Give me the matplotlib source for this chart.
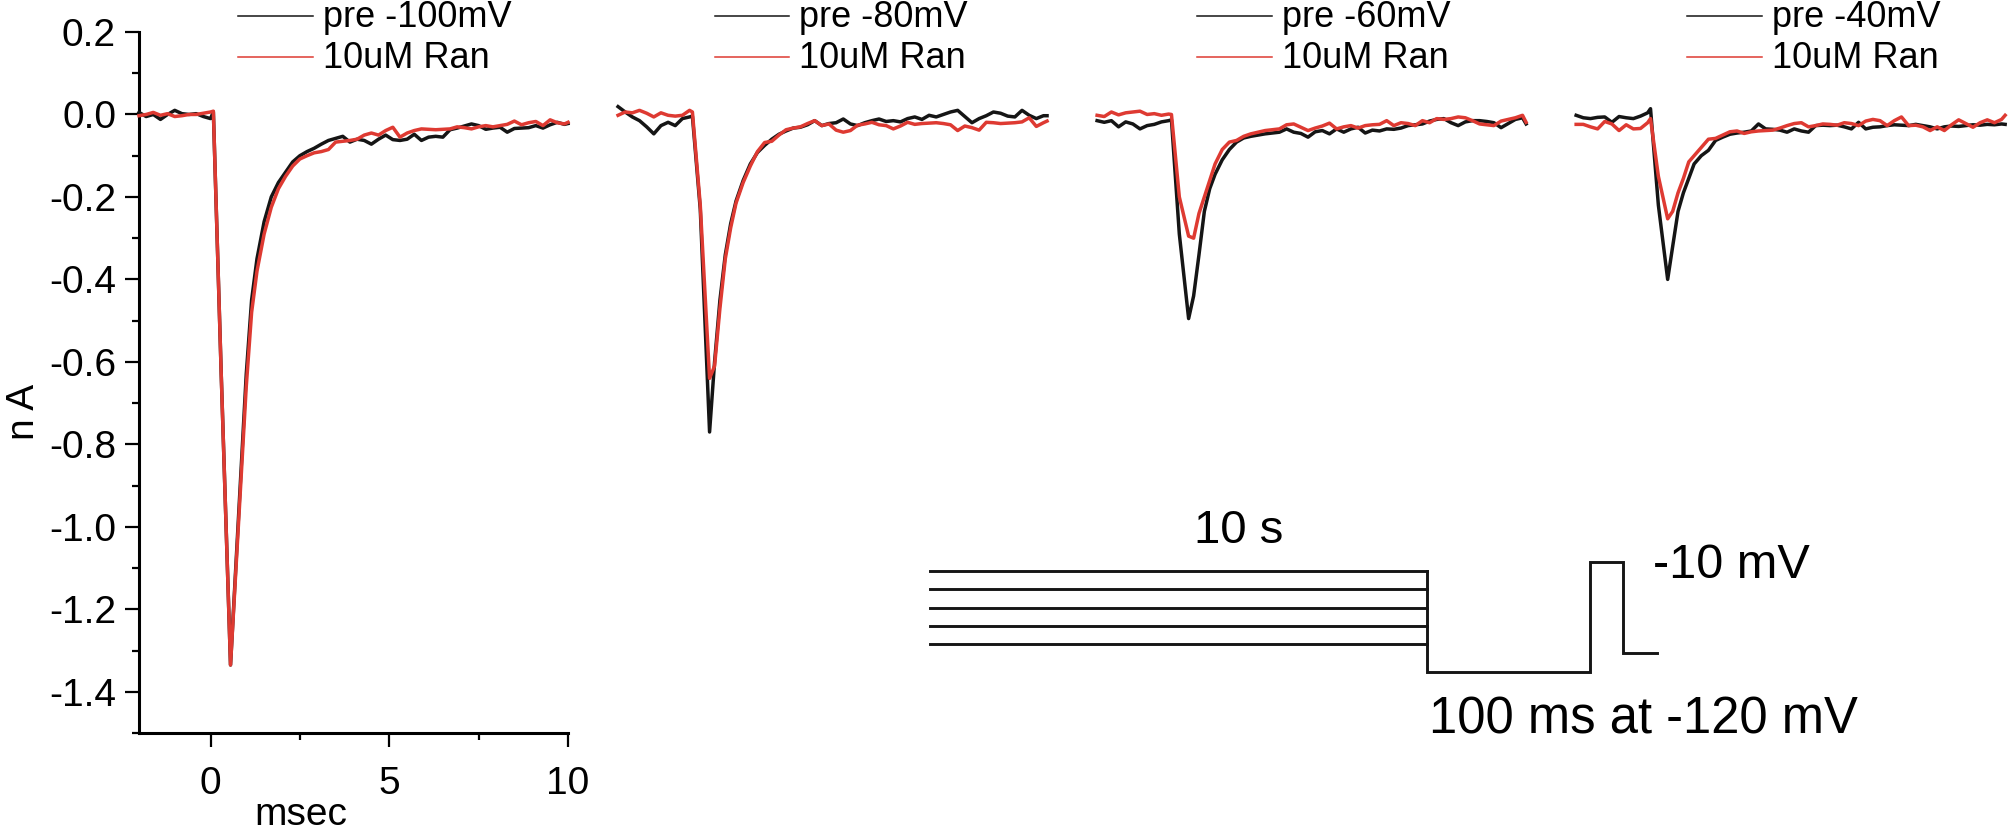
import matplotlib
matplotlib.use('Agg')
import matplotlib.pyplot as plt
import matplotlib.transforms as mtransforms
from matplotlib.ticker import MultipleLocator, FuncFormatter

plt.rcParams['font.family'] = ['Liberation Sans', 'DejaVu Sans']
plt.rcParams['axes.unicode_minus'] = False

# sample times (msec), shared by all sweeps
t_ms = [-2.0, -1.8, -1.6, -1.4, -1.2, -1.0, -0.8, -0.6, -0.4, -0.2, 0.0, 0.08,
        0.3, 0.56, 0.7, 0.85, 1.0, 1.15, 1.3, 1.5, 1.7, 1.9,
        2.1, 2.3, 2.5, 2.7, 2.9, 3.1, 3.3, 3.5, 3.7, 3.9,
        4.1, 4.3, 4.5, 4.7, 4.9, 5.1, 5.3, 5.5, 5.7, 5.9,
        6.1, 6.3, 6.5, 6.7, 6.9, 7.1, 7.3, 7.5, 7.7, 7.9,
        8.1, 8.3, 8.5, 8.7, 8.9, 9.1, 9.3, 9.5, 9.7, 9.9,
        10.0]

# currents (nA): control after prepulse, and with 10uM ranolazine
pre_100 = [0.005, -0.005, 0.0, -0.012, 0.0, 0.01, 0.002, 0.0, 0.002, -0.005, -0.01, 0.006,
           -0.63, -1.335, -1.11, -0.87, -0.63, -0.45, -0.35, -0.26, -0.20, -0.165,
           -0.14, -0.115, -0.10, -0.09, -0.082, -0.072, -0.063, -0.058, -0.053, -0.067,
           -0.06, -0.063, -0.072, -0.06, -0.05, -0.061, -0.063, -0.06, -0.048, -0.063,
           -0.055, -0.053, -0.055, -0.037, -0.033, -0.028, -0.023, -0.027, -0.036, -0.033,
           -0.031, -0.043, -0.034, -0.033, -0.032, -0.027, -0.033, -0.025, -0.019, -0.024,
           -0.022]
ran_100 = [-0.003, 0.0, 0.005, -0.002, 0.002, -0.005, -0.003, 0.0, 0.0, 0.003, 0.006, 0.008,
           -0.63, -1.335, -1.12, -0.89, -0.66, -0.48, -0.38, -0.29, -0.225, -0.18,
           -0.15, -0.125, -0.108, -0.10, -0.093, -0.09, -0.085, -0.067, -0.065, -0.063,
           -0.06, -0.05, -0.045, -0.05, -0.039, -0.031, -0.055, -0.045, -0.039, -0.035,
           -0.036, -0.037, -0.036, -0.035, -0.03, -0.032, -0.035, -0.03, -0.027, -0.03,
           -0.027, -0.024, -0.016, -0.025, -0.02, -0.017, -0.027, -0.013, -0.02, -0.023,
           -0.019]
pre_80 = [0.019, 0.006, -0.006, -0.015, -0.03, -0.047, -0.027, -0.019, -0.027, -0.01, -0.006, -0.004,
          -0.23, -0.77, -0.60, -0.45, -0.34, -0.265, -0.21, -0.16, -0.12, -0.092,
          -0.075, -0.06, -0.048, -0.04, -0.033, -0.031, -0.025, -0.015, -0.027, -0.022,
          -0.02, -0.011, -0.023, -0.027, -0.02, -0.015, -0.011, -0.017, -0.015, -0.018,
          -0.01, -0.006, -0.012, -0.002, -0.006, 0.0, 0.006, 0.01, -0.005, -0.02,
          -0.01, -0.003, 0.006, 0.003, -0.004, -0.006, 0.01, -0.002, -0.01, -0.003,
          -0.003]
ran_80 = [-0.002, 0.006, 0.004, 0.01, 0.003, -0.006, 0.004, -0.002, -0.004, -0.002, 0.01, 0.006,
          -0.22, -0.64, -0.61, -0.47, -0.35, -0.275, -0.215, -0.165, -0.125, -0.09,
          -0.068, -0.065, -0.05, -0.037, -0.033, -0.03, -0.022, -0.015, -0.027, -0.023,
          -0.038, -0.043, -0.039, -0.026, -0.023, -0.019, -0.025, -0.027, -0.035, -0.028,
          -0.019, -0.024, -0.022, -0.021, -0.02, -0.022, -0.025, -0.039, -0.028, -0.032,
          -0.038, -0.019, -0.02, -0.022, -0.021, -0.02, -0.018, -0.008, -0.029, -0.02,
          -0.016]
pre_60 = [-0.015, -0.019, -0.015, -0.03, -0.018, -0.023, -0.035, -0.027, -0.024, -0.018, -0.015, -0.013,
          -0.29, -0.495, -0.44, -0.34, -0.235, -0.18, -0.145, -0.11, -0.085, -0.067,
          -0.057, -0.053, -0.05, -0.047, -0.045, -0.043, -0.035, -0.043, -0.046, -0.055,
          -0.042, -0.039, -0.047, -0.035, -0.043, -0.035, -0.031, -0.045, -0.038, -0.04,
          -0.035, -0.036, -0.033, -0.027, -0.025, -0.023, -0.016, -0.012, -0.01, -0.02,
          -0.027, -0.018, -0.015, -0.015, -0.017, -0.02, -0.032, -0.022, -0.012, -0.008,
          -0.023]
ran_60 = [-0.002, -0.005, 0.006, -0.001, 0.004, 0.006, 0.008, 0.0, 0.002, -0.002, 0.001, 0.0,
          -0.20, -0.295, -0.30, -0.24, -0.20, -0.16, -0.12, -0.085, -0.067, -0.063,
          -0.053, -0.047, -0.043, -0.039, -0.037, -0.035, -0.025, -0.023, -0.031, -0.039,
          -0.033, -0.028, -0.021, -0.035, -0.03, -0.027, -0.033, -0.027, -0.025, -0.024,
          -0.015, -0.027, -0.02, -0.022, -0.027, -0.015, -0.02, -0.01, -0.012, -0.01,
          -0.006, -0.008, -0.015, -0.023, -0.025, -0.027, -0.016, -0.012, -0.008, -0.002,
          -0.019]
pre_40 = [-0.002, -0.008, -0.01, -0.007, -0.006, -0.019, -0.005, -0.008, -0.01, -0.004, 0.004, 0.014,
          -0.22, -0.40, -0.32, -0.235, -0.19, -0.155, -0.12, -0.10, -0.087, -0.063,
          -0.055, -0.048, -0.045, -0.043, -0.04, -0.023, -0.035, -0.036, -0.038, -0.043,
          -0.035, -0.04, -0.043, -0.027, -0.026, -0.027, -0.026, -0.03, -0.035, -0.019,
          -0.035, -0.031, -0.03, -0.027, -0.025, -0.026, -0.027, -0.024, -0.027, -0.03,
          -0.035, -0.03, -0.028, -0.029, -0.027, -0.025, -0.026, -0.024, -0.025, -0.023,
          -0.024]
ran_40 = [-0.024, -0.024, -0.03, -0.035, -0.017, -0.023, -0.039, -0.025, -0.035, -0.034, -0.02, -0.01,
          -0.15, -0.253, -0.235, -0.19, -0.155, -0.115, -0.10, -0.08, -0.06, -0.058,
          -0.05, -0.042, -0.04, -0.046, -0.042, -0.04, -0.039, -0.038, -0.033, -0.027,
          -0.022, -0.02, -0.03, -0.027, -0.023, -0.024, -0.026, -0.02, -0.022, -0.027,
          -0.016, -0.012, -0.015, -0.027, -0.015, -0.006, -0.027, -0.026, -0.03, -0.039,
          -0.03, -0.039, -0.025, -0.013, -0.022, -0.031, -0.02, -0.013, -0.02, -0.012,
          -0.002]

ctrl_sweeps = [pre_100, pre_80, pre_60, pre_40]
drug_sweeps = [ran_100, ran_80, ran_60, ran_40]
ctrl_labels = ['pre -100mV', 'pre -80mV', 'pre -60mV', 'pre -40mV']
drug_label = '10uM Ran'
sweep_shift = 13.4              # msec between sweeps laid side by side
legend_t0 = [0.78, 14.1, 27.6, 41.3]

# voltage protocol cartoon (schematic units: time, level rows)
cond_rows = [0, 1, 2, 3, 4]
cond_end = 10.0
hyper_row, hyper_end = 5.5, 13.28
test_row, test_end = -0.5, 13.94
tail_row, tail_end = 4.5, 14.62

black = '#151515'
red = '#de3a32'

W, H = 2014, 827
fig = plt.figure(figsize=(W / 100, H / 100), dpi=100)
ax = fig.add_axes([139 / W, 94 / H, 429 / W, 701 / H])

for k in range(4):
    tt = [t + k * sweep_shift for t in t_ms]
    ax.plot(tt, ctrl_sweeps[k], color=black, lw=2.5, clip_on=False, zorder=3)
    ax.plot(tt, drug_sweeps[k], color=red, lw=2.5, clip_on=False, zorder=4)

ax.set_xlim(-2, 10)
ax.set_ylim(-1.5, 0.2)
ax.xaxis.set_major_locator(MultipleLocator(5))
ax.xaxis.set_minor_locator(MultipleLocator(2.5))
ax.yaxis.set_major_locator(MultipleLocator(0.2))
ax.yaxis.set_minor_locator(MultipleLocator(0.1))
ax.yaxis.set_major_formatter(FuncFormatter(lambda v, p: '%.1f' % (round(v, 1) + 0.0)))
for side in ['top', 'right']:
    ax.spines[side].set_visible(False)
for side in ['left', 'bottom']:
    ax.spines[side].set_linewidth(2.2)
ax.tick_params(which='major', direction='out', length=10, width=1.6, labelsize=28)
ax.tick_params(which='minor', direction='out', length=5, width=1.6)
ax.tick_params(axis='x', which='major', pad=13.5)
ax.tick_params(axis='y', which='major', pad=6.5)

fig.text(301 / W, 2 / H, 'msec', ha='center', va='baseline', fontsize=28)
fig.text(24 / W, 1 - 412 / H, 'n A', rotation=90, ha='center', va='center', fontsize=28)

# hand-made legends above each sweep
trans = mtransforms.blended_transform_factory(ax.transData, fig.transFigure)
line_len = 75 / 35.8
text_gap = 85 / 35.8
rows_y = [1 - 15.7 / H, 1 - 57.3 / H]
base_y = [1 - 26.7 / H, 1 - 68.3 / H]
for k in range(4):
    x0 = legend_t0[k]
    for j, (lab, col) in enumerate([(ctrl_labels[k], black), (drug_label, red)]):
        ax.plot([x0, x0 + line_len], [rows_y[j], rows_y[j]], color=col, lw=1.1,
                transform=trans, clip_on=False)
        ax.text(x0 + text_gap, base_y[j], lab, transform=trans, fontsize=26,
                ha='left', va='baseline')

# protocol cartoon
pax = fig.add_axes([930 / W, 155.3 / H, 727 / W, 110 / H])
pax.set_xlim(0, tail_end)
pax.set_ylim(hyper_row, test_row)
pax.axis('off')
for r in cond_rows:
    pax.plot([0, cond_end], [r, r], color=black, lw=2.1, clip_on=False)
pax.plot([cond_end, cond_end, hyper_end, hyper_end, test_end, test_end, tail_end],
         [cond_rows[0], hyper_row, hyper_row, test_row, test_row, tail_row, tail_row],
         color=black, lw=2.1, clip_on=False, solid_joinstyle='miter')
pax.text(6.2, -1.52, '10 s', ha='center', va='baseline', fontsize=34)
pax.text(14.53, 0.39, '-10 mV', ha='left', va='baseline', fontsize=35)
pax.text(10.04, 8.86, '100 ms at -120 mV', ha='left', va='baseline', fontsize=36.5)

fig.savefig('out.png', dpi=100)
